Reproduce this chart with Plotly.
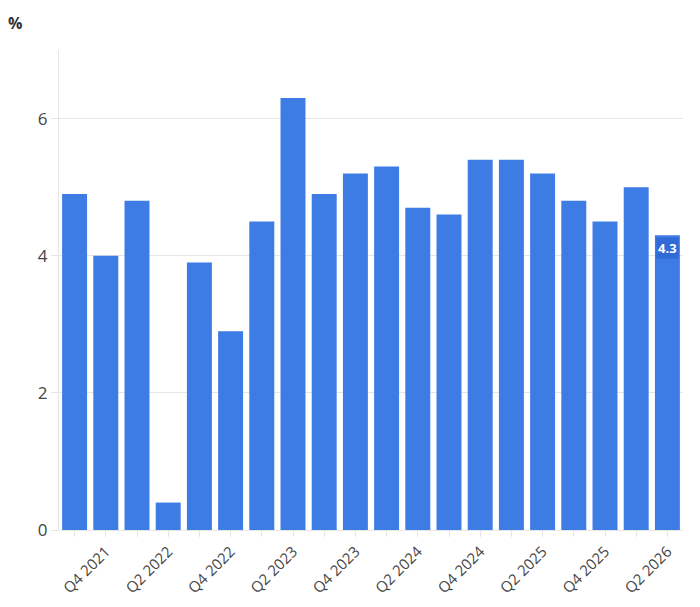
import plotly.graph_objects as go

categories = ["Q3 2021", "Q4 2021", "Q1 2022", "Q2 2022", "Q3 2022", "Q4 2022",
              "Q1 2023", "Q2 2023", "Q3 2023", "Q4 2023", "Q1 2024", "Q2 2024",
              "Q3 2024", "Q4 2024", "Q1 2025", "Q2 2025", "Q3 2025", "Q4 2025",
              "Q1 2026", "Q2 2026"]
values = [4.9, 4.0, 4.8, 0.4, 3.9, 2.9, 4.5, 6.3, 4.9, 5.2, 5.3, 4.7,
          4.6, 5.4, 5.4, 5.2, 4.8, 4.5, 5.0, 4.3]
tick_text = [c if i % 2 == 1 else "" for i, c in enumerate(categories)]
y_ticks = [0, 2, 4, 6]

BAR = "#3d7be5"
GRID = "#e6e6e6"

fig = go.Figure(go.Bar(x=categories, y=values, marker_color=BAR,
                       marker_line_width=0, hoverinfo="x+y"))

fig.add_annotation(x=categories[-1], y=values[-1], text="<b>4.3</b>",
                   showarrow=False, yanchor="top", yshift=-2,
                   font=dict(family="Open Sans, sans-serif", size=13, color="white"),
                   bgcolor="#2f6ad6", borderpad=1)

fig.add_annotation(x=0, y=1, xref="paper", yref="paper", xanchor="left", yanchor="bottom",
                   text="<b>%</b>", showarrow=False,
                   xshift=-53, yshift=14,
                   font=dict(family="Open Sans, sans-serif", size=16, color="#333"))

fig.update_layout(
    width=700, height=607,
    margin=dict(l=59, r=17, t=50, b=77, autoexpand=False),
    paper_bgcolor="white", plot_bgcolor="white",
    bargap=0.2, showlegend=False,
    font=dict(family="Open Sans, sans-serif", size=15, color="#444"),
)
fig.update_xaxes(tickmode="array", tickvals=categories, ticktext=tick_text,
                 tickangle=-45, ticks="outside", ticklen=6, tickcolor=GRID,
                 showline=False, showgrid=False, automargin=False,
                 tickfont=dict(size=15, color="#444"))
fig.update_yaxes(range=[0, 7], tickvals=y_ticks, showgrid=True, gridcolor=GRID,
                 zeroline=True, zerolinecolor=GRID, zerolinewidth=1, automargin=False,
                 showline=True, linecolor=GRID, ticks="outside", ticklen=7,
                 tickcolor=GRID, tickfont=dict(size=17, color="#444"))

fig.write_html("out.html")
